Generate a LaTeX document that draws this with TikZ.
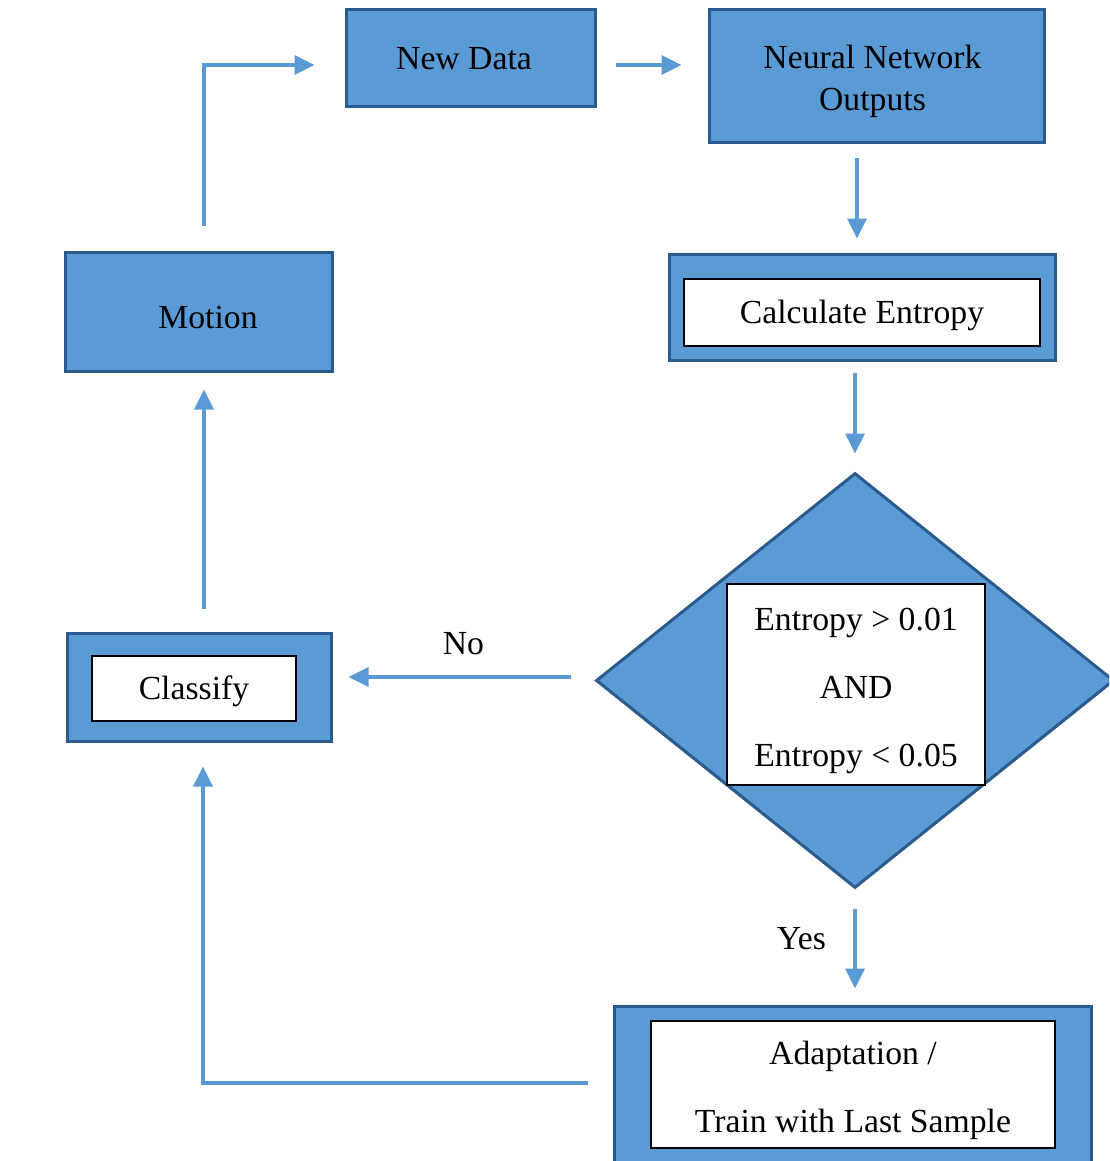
\documentclass[tikz,border=0pt]{standalone}
\usepackage{fontspec}
\setmainfont{Liberation Serif}
\usetikzlibrary{positioning}
\usetikzlibrary{shapes.geometric,arrows.meta}
\definecolor{boxblue}{HTML}{5B9BD5}
\definecolor{edgeblue}{HTML}{2B5A8C}
\tikzstyle{block}=[rectangle,fill=boxblue,draw=edgeblue,line width=3pt,inner sep=0pt]
\tikzstyle{innerbox}=[rectangle,fill=white,draw=black,line width=1.5pt,inner sep=0pt]
\tikzstyle{decision}=[diamond,fill=boxblue,draw=edgeblue,line width=3pt,inner sep=0pt]
\tikzstyle{boxtext}=[align=center,font=\fontsize{33.7}{42}\selectfont]
\tikzstyle{widetext}=[align=center,font=\fontsize{33.7}{68}\selectfont]
\tikzstyle{flow}=[-{Triangle[length=20pt,width=19pt]},draw=boxblue,line width=3.5pt]
\tikzstyle{edgetext}=[font=\fontsize{33.7}{40}\selectfont]

\begin{document}
\begin{tikzpicture}[x=1pt,y=-1pt]

  \clip (0,0) rectangle (1109,1161);

  % boxes
  \node[block,minimum width=249pt,minimum height=97pt,
        label={[boxtext,xshift=-6.5pt]center:New Data}] (newdata) at (470.5,58.5) {};
  \node[block,minimum width=335pt,minimum height=133pt,
        label={[boxtext,xshift=-4pt,yshift=-5pt]center:Neural Network\\Outputs}] (nnout) at (876.5,76.5) {};
  \node[block,minimum width=267pt,minimum height=119pt,
        label={[boxtext,xshift=9.5pt,yshift=-6pt]center:Motion}] (motion) at (198.5,311.5) {};

  \node[block,minimum width=386pt,minimum height=106pt] (entropy) at (862,307) {};
  \node[innerbox,minimum width=356pt,minimum height=67pt,
        label={[boxtext,yshift=-3pt]center:Calculate Entropy}] (entropytxt) at (862,312.5) {};

  \node[block,minimum width=264pt,minimum height=108pt] (classify) at (199,687) {};
  \node[innerbox,minimum width=204pt,minimum height=65pt,
        label={[boxtext,yshift=-3pt]center:Classify}] (classifytxt) at (194,688.5) {};

  \node[decision,minimum width=518pt,minimum height=415pt] (check) at (855,680.5) {};
  \node[innerbox,minimum width=258pt,minimum height=201pt,
        label={[widetext,yshift=-6pt]center:Entropy > 0.01\\AND\\Entropy < 0.05}] (checktxt) at (856,684.5) {};

  \node[block,minimum width=477pt,minimum height=200pt] (adapt) at (852.5,1106) {};
  \node[innerbox,minimum width=404pt,minimum height=127pt,
        label={[widetext,yshift=-6pt]center:Adaptation /\\Train with Last Sample}] (adapttxt) at (853,1084.5) {};

  % arrows
  \draw[flow,shorten <=25pt,shorten >=30pt] ([xshift=5.5pt]motion.north) |- ([yshift=-6.5pt]newdata.west);
  \draw[flow,shorten <=19pt,shorten >=26pt] ([yshift=-6.5pt]newdata.east) -- ([yshift=-6.5pt]newdata.east -| nnout.west);
  \draw[flow,shorten <=14pt,shorten >=14pt] ([xshift=-19.5pt]nnout.south) -- ([xshift=-19.5pt]nnout.south |- entropy.north);
  \draw[flow,shorten <=11pt,shorten >=18pt] (entropy.south -| check.north) -- (check.north);
  \draw[flow,shorten <=24pt,shorten >=16pt] ([yshift=3.5pt]check.west) -- node[edgetext,above=17pt]{No} ([yshift=3.5pt]check.west -| classify.east);
  \draw[flow,shorten <=19pt,shorten >=16pt] (check.south) -- node[edgetext,left=24pt,pos=0.43]{Yes} (adapt.north -| check.south);
  \draw[flow,shorten <=25pt,shorten >=24pt] ([yshift=23pt]adapt.west) -| ([xshift=4pt]classify.south);
  \draw[flow,shorten <=23pt,shorten >=17pt] ([xshift=5pt]classify.north) -- ([xshift=5pt]classify.north |- motion.south);

\end{tikzpicture}
\end{document}
